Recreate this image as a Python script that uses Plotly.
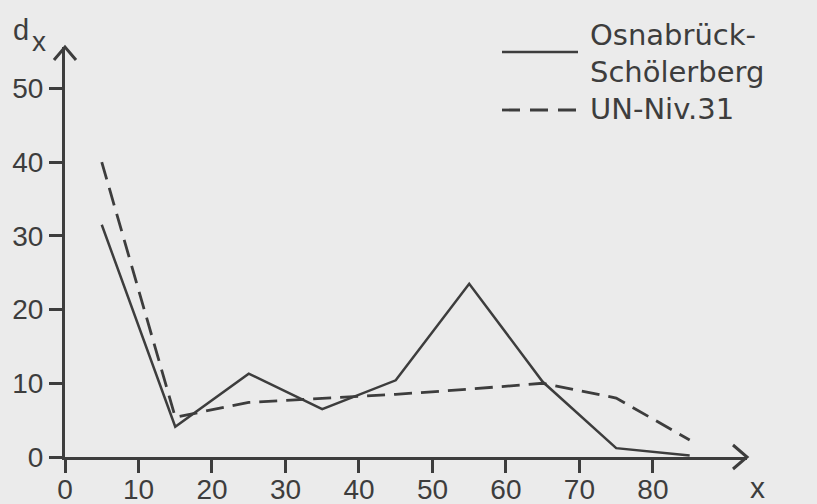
import plotly.graph_objects as go

# Data
x_vals = [5, 15, 25, 35, 45, 55, 65, 75, 85]
osnabrueck = [31.5, 4.1, 11.3, 6.5, 10.4, 23.5, 10.2, 1.2, 0.2]
un_niv31 = [40.0, 5.4, 7.4, 7.9, 8.5, 9.2, 10.0, 8.0, 2.3]
x_ticks = [0, 10, 20, 30, 40, 50, 60, 70, 80]
y_ticks = [0, 10, 20, 30, 40, 50]
legend_lines = ["Osnabrück-", "Schölerberg", "UN-Niv.31"]

INK = "#3d3d3d"
BG = "#ebebeb"
FONT = "Liberation Sans, Arial, sans-serif"
LFONT = "DejaVu Sans, sans-serif"

W, H = 817, 504
L, R, T, B = 65, 70, 47, 47
PW, PH = W - L - R, H - T - B
X_MAX = 92.8
Y_MAX = 55.6


def px(xp):
    return (xp - L) / PW


def py(yp):
    return (H - B - yp) / PH


fig = go.Figure()
fig.add_trace(go.Scatter(x=x_vals, y=osnabrueck, mode="lines",
                         line=dict(color=INK, width=2.5), showlegend=False,
                         cliponaxis=False))
fig.add_trace(go.Scatter(x=x_vals, y=un_niv31, mode="lines",
                         line=dict(color=INK, width=2.8, dash="18px,9px"),
                         showlegend=False, cliponaxis=False))

x_tip = L + PW  # pixel of x arrow tip
y_tip = T       # pixel of y arrow tip
x0p = H - B     # pixel row of x axis
shapes = [
    dict(type="path", xref="paper", yref="paper",
         path=(f"M {px(x_tip-14)},{py(x0p-12)} L {px(x_tip)},{py(x0p)} "
               f"L {px(x_tip-14)},{py(x0p+12)}"),
         line=dict(color=INK, width=3)),
    dict(type="path", xref="paper", yref="paper",
         path=(f"M {px(L-11)},{py(y_tip+13)} L {px(L)},{py(y_tip)} "
               f"L {px(L+11)},{py(y_tip+13)}"),
         line=dict(color=INK, width=3)),
    dict(type="line", xref="paper", yref="paper",
         x0=px(502), x1=px(578), y0=py(52), y1=py(52),
         line=dict(color=INK, width=2.5)),
    dict(type="line", xref="paper", yref="paper",
         x0=px(502), x1=px(578), y0=py(110), y1=py(110),
         line=dict(color=INK, width=2.8, dash="18px,10px")),
]

annotations = []
for txt, yc in zip(legend_lines, [35, 72, 109]):
    annotations.append(dict(text=txt, xref="paper", yref="paper",
                            x=px(588), y=py(yc), xanchor="left",
                            yanchor="middle", showarrow=False,
                            font=dict(family=LFONT, size=29, color=INK)))
annotations += [
    dict(text="d", xref="paper", yref="paper",
         x=px(21), y=py(30), xanchor="center", yanchor="middle",
         showarrow=False, font=dict(family=FONT, size=29, color=INK)),
    dict(text="x", xref="paper", yref="paper",
         x=px(39), y=py(42), xanchor="center", yanchor="middle",
         showarrow=False, font=dict(family=FONT, size=28, color=INK)),
    dict(text="x", xref="paper", yref="paper",
         x=px(757), y=py(487), xanchor="center", yanchor="middle",
         showarrow=False, font=dict(family=FONT, size=30, color=INK)),
]

axis_common = dict(showgrid=False, zeroline=False, automargin=False,
                   showline=True, linecolor=INK, linewidth=3,
                   ticks="outside", ticklen=13, tickwidth=3, tickcolor=INK,
                   tickfont=dict(family=FONT, size=28, color=INK))

fig.update_layout(
    width=W, height=H,
    margin=dict(l=L, r=R, t=T, b=B),
    paper_bgcolor=BG, plot_bgcolor=BG,
    shapes=shapes, annotations=annotations,
    xaxis=dict(range=[0, X_MAX], tickvals=x_ticks,
               ticktext=[str(v) for v in x_ticks], ticklabelstandoff=-8,
               **axis_common),
    yaxis=dict(range=[0, Y_MAX], tickvals=y_ticks,
               ticktext=[str(v) for v in y_ticks], **axis_common),
)

fig.write_html("out.html",
               config={"displayModeBar": False},
               post_script="document.body.style.margin='0';"
                           "document.body.style.background='#ebebeb';")
